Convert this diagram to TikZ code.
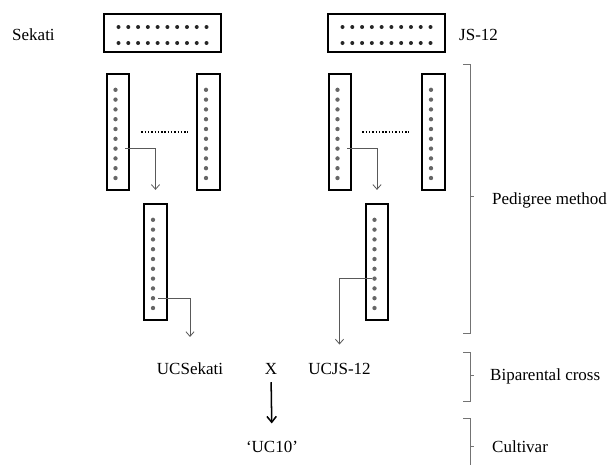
\documentclass[tikz,border=0pt]{standalone}
\usepackage{fontspec}
\setmainfont{Liberation Serif}
\usetikzlibrary{arrows.meta}
\tikzset{
  hbox/.style={draw, line width=1.9pt, minimum width=3.5cm, minimum height=1.15cm, inner sep=0pt},
  vbox/.style={draw, line width=1.9pt, minimum width=0.68cm, minimum height=3.48cm, inner sep=0pt},
  seed/.style={fill=black!85},
  flow/.style={draw=black!65, line width=0.7pt, -{Straight Barb[length=4pt,width=7pt]}},
  brace/.style={draw=black!55, line width=0.7pt},
  lbl/.style={inner sep=0pt}
}
\begin{document}
\begin{tikzpicture}[x=0.03cm, y=-0.03cm, font=\fontsize{14.5}{17}\selectfont]
    \useasboundingbox (0,0) rectangle (611,465);
    % parents
    \foreach \nm/\cx in {sek/162.5, js/386.5} {
        \node[hbox] (\nm) at (\cx,33) {};
        \foreach \i in {0,...,9} {
            \fill[seed] (\cx-44+\i*9.78,27) circle (0.06cm);
            \fill[seed] (\cx-44+\i*9.78,43) circle (0.06cm);
        }
    }
    \node[lbl, anchor=base west] (sekati) at (12,40) {Sekati};
    \node[lbl, anchor=base west] (js12) at (459,40) {JS-12};
    % selected lines
    \foreach \nm/\cx/\cy in {A/118/132, B/208.5/132, C/340/132, D/433.5/132, E/155.5/262, F/377/262} {
        \node[vbox] (\nm) at (\cx,\cy) {};
        \foreach \i in {1,...,10} {
            \coordinate (\nm-\i) at (\cx-2.5,\cy-52+\i*9.8);
            \fill[black!60] (\nm-\i) circle (0.065cm);
        }
    }
    \draw[line width=0.9pt, dash pattern=on 1.2pt off 1.6pt, shorten <=0.33cm, shorten >=0.24cm] (A) -- (B);
    \draw[line width=0.9pt, dash pattern=on 1.2pt off 1.6pt, shorten <=0.3cm, shorten >=0.35cm] (C) -- (D);
    % cross
    \node[lbl, anchor=base] (ucsek) at (190,374) {UCSekati};
    \node[lbl, anchor=base] (cross) at (271,374) {X};
    \node[lbl, anchor=base] (ucjs) at (339.5,374) {UCJS-12};
    \node[lbl, anchor=base] (uc10) at (272,452) {‘UC10’};
    \draw[flow, shorten <=0.285cm, shorten >=0.39cm] (A-7) -| (E.north);
    \draw[flow, shorten <=0.285cm, shorten >=0.39cm] (C-7) -| (F.north);
    \draw[flow, shorten <=0.15cm, shorten >=0.75cm] (E-9) -| (ucsek.north);
    \draw[flow, shorten <=0.08cm, shorten >=0.54cm] (F-7) -| (ucjs.north);
    \draw[line width=1.3pt, -{Straight Barb[length=5pt,width=8pt]}, shorten <=0.24cm, shorten >=0.51cm] (cross.south) -- (uc10.north);
    % brackets
    \draw[brace] (463,64) -- (470,64) -- (470,333) -- (463,333) (470,196) -- (474,196);
    \draw[brace] (463,352) -- (470,352) -- (470,401) -- (463,401) (470,375) -- (474,375);
    \draw[brace] (463,418) -- (470,418) -- (470,465) (470,446) -- (474,446);
    \node[lbl, anchor=base west] (pedigree) at (492,204) {Pedigree method};
    \node[lbl, anchor=base west] (biparental) at (490,380) {Biparental cross};
    \node[lbl, anchor=base west] (cultivar) at (492,452) {Cultivar};
\end{tikzpicture}
\end{document}
